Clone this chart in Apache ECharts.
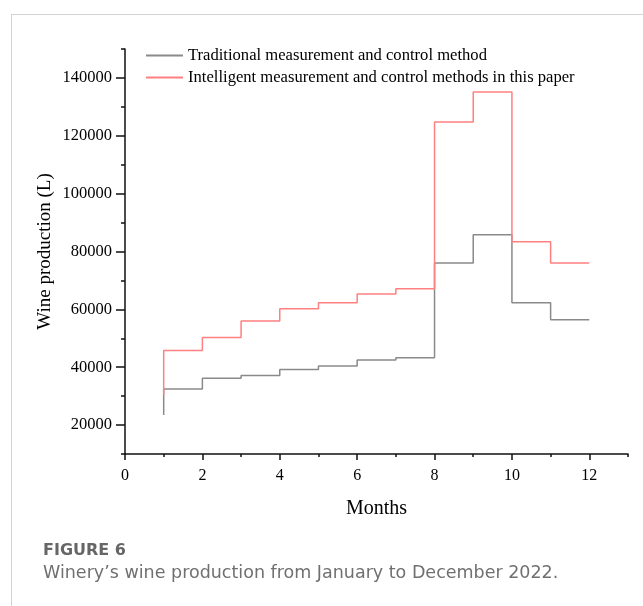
<!DOCTYPE html>
<html>
<head>
<meta charset="utf-8">
<script src="https://cdn.jsdelivr.net/npm/echarts@6/dist/echarts.min.js"></script>
<style>
html,body{margin:0;padding:0;background:#fff;}
#chart{width:643px;height:606px;}
</style>
</head>
<body>
<div id="chart"></div>
<script>
// Month positions (x) and values
var months = [1, 2, 3, 4, 5, 6, 7, 8, 9, 10, 11, 12];
var traditional = [23500, 32500, 36200, 37100, 39200, 40400, 42500, 43300, 76000, 85800, 62300, 56400];
var intelligent = [30400, 45800, 50300, 56000, 60200, 62300, 65300, 67100, 124800, 135100, 83400, 76000];
var seriesNames = ['Traditional measurement and control method', 'Intelligent measurement and control methods in this paper'];
var xMajorTicks = [0, 2, 4, 6, 8, 10, 12];
var yMajorTicks = [20000, 40000, 60000, 80000, 100000, 120000, 140000];

function pairs(xs, ys) { return xs.map(function (x, i) { return [x, ys[i]]; }); }

var serif = 'Liberation Serif, Times New Roman, serif';
var chart = echarts.init(document.getElementById('chart'), null, {renderer: 'canvas'});
chart.setOption({
  animation: false,
  backgroundColor: '#fff',
  grid: {left: 125, right: 15, top: 49, bottom: 152, containLabel: false},
  legend: {
    orient: 'vertical', left: 140, top: 42, itemWidth: 37, itemHeight: 14, itemGap: 5,
    itemStyle: {opacity: 0},
    textStyle: {fontFamily: serif, fontSize: 16.6, color: '#000'},
    data: seriesNames
  },
  xAxis: [{
    type: 'value', min: 0, max: 13, interval: 1, position: 'bottom',
    name: 'Months', nameLocation: 'middle', nameGap: 45,
    nameTextStyle: {fontFamily: serif, fontSize: 20, color: '#000'},
    axisLine: {show: true, lineStyle: {color: '#111', width: 1.5}},
    axisTick: {show: true, length: 3, lineStyle: {color: '#111', width: 1.5}},
    axisLabel: {fontFamily: serif, fontSize: 16, color: '#000', margin: 14,
      formatter: function (v) { return v % 2 === 0 ? String(v) : ''; }},
    splitLine: {show: false}
  }, {
    type: 'value', min: 0, max: 13, position: 'bottom',
    axisLine: {show: false},
    axisTick: {show: true, length: 6, customValues: xMajorTicks, lineStyle: {color: '#111', width: 1.5}},
    axisLabel: {show: false},
    splitLine: {show: false}
  }],
  yAxis: [{
    type: 'value', min: 10000, max: 150000, interval: 10000, position: 'left',
    name: 'Wine production (L)', nameLocation: 'middle', nameGap: 70, nameMoveOverlap: false,
    nameTextStyle: {fontFamily: serif, fontSize: 19, color: '#000'},
    axisLine: {show: true, lineStyle: {color: '#111', width: 1.5}},
    axisTick: {show: true, length: 4, lineStyle: {color: '#111', width: 1.5}},
    axisLabel: {fontFamily: serif, fontSize: 16.5, color: '#000', margin: 13,
      formatter: function (v) { return yMajorTicks.indexOf(v) >= 0 ? String(v) : ''; }},
    splitLine: {show: false}
  }, {
    type: 'value', min: 10000, max: 150000, position: 'left',
    axisLine: {show: false},
    axisTick: {show: true, length: 9, customValues: yMajorTicks, lineStyle: {color: '#111', width: 1.5}},
    axisLabel: {show: false},
    splitLine: {show: false}
  }],
  series: [{
    name: seriesNames[0], type: 'line', step: 'start', symbol: 'none',
    xAxisIndex: 0, yAxisIndex: 0,
    lineStyle: {color: '#8a8a8a', width: 1.5}, itemStyle: {color: '#8a8a8a'},
    data: pairs(months, traditional)
  }, {
    name: seriesNames[1], type: 'line', step: 'start', symbol: 'none',
    xAxisIndex: 0, yAxisIndex: 0,
    lineStyle: {color: '#ff8080', width: 1.5}, itemStyle: {color: '#ff8080'},
    data: pairs(months, intelligent)
  }],
  graphic: [
    {type: 'line', shape: {x1: 11, y1: 14.5, x2: 643, y2: 14.5}, style: {stroke: '#d4d4d4', lineWidth: 1}, silent: true},
    {type: 'line', shape: {x1: 11.5, y1: 14, x2: 11.5, y2: 606}, style: {stroke: '#d4d4d4', lineWidth: 1}, silent: true},
    {type: 'text', left: 43, top: 543, style: {text: 'FIGURE 6', font: 'bold 16px "DejaVu Sans", sans-serif', fill: '#666'}},
    {type: 'text', left: 43, top: 564, style: {text: 'Winery\u2019s wine production from January to December 2022.', font: '17.5px "DejaVu Sans", sans-serif', fill: '#707070'}}
  ]
});
</script>
</body>
</html>
